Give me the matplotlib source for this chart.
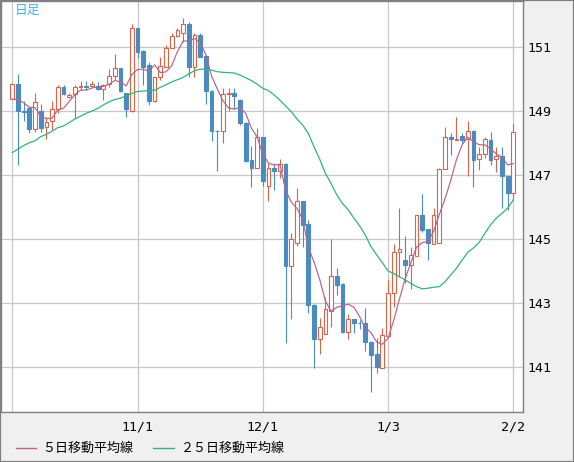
import matplotlib
matplotlib.use("Agg")
import matplotlib.pyplot as plt
import numpy as np
import pandas as pd
from matplotlib.patches import Rectangle
from matplotlib.lines import Line2D

# ---------------- data ----------------
opens = [149.37, 149.83, 149.00, 149.10, 148.44, 149.00, 148.49, 148.69, 149.05, 149.74,
         149.45, 149.52, 149.74, 149.77, 149.77, 149.78, 149.68, 149.84, 150.09, 150.33,
         149.55, 149.00, 151.59, 150.89, 150.44, 149.32, 150.05, 150.39, 150.96, 151.34,
         151.45, 151.72, 150.39, 151.375, 150.72, 149.64, 148.39, 148.38, 149.52, 149.55,
         149.36, 148.62, 147.47, 147.21, 148.18, 146.67, 147.21, 147.13, 147.34, 144.14,
         144.86, 146.18, 145.47, 142.94, 141.875, 142.04, 142.76, 143.84, 143.59, 142.10,
         142.49, 142.38, 142.36, 141.79, 141.41, 140.96, 141.98, 143.30, 144.60, 144.34,
         144.19, 144.48, 145.75, 145.31, 144.84, 144.86, 147.18, 148.18, 148.10, 148.22,
         148.12, 148.38, 147.49, 147.65, 148.09, 147.49, 147.59, 146.97, 146.43]
highs = [149.89, 150.16, 149.32, 149.12, 149.55, 149.22, 148.82, 149.31, 149.81, 149.81,
         149.55, 149.81, 149.94, 149.94, 149.94, 149.92, 149.84, 150.31, 150.78, 150.35,
         149.57, 151.72, 151.61, 150.91, 150.52, 150.07, 150.70, 151.06, 151.43, 151.61,
         151.90, 151.77, 151.43, 151.43, 150.75, 149.66, 148.42, 149.71, 149.71, 149.71,
         149.38, 148.65, 147.91, 148.46, 148.20, 147.36, 147.36, 147.49, 147.36, 145.18,
         146.58, 146.20, 145.59, 142.96, 142.52, 143.18, 144.99, 144.08, 143.62, 142.66,
         142.50, 142.47, 142.83, 141.80, 141.90, 142.21, 143.72, 144.84, 145.97, 145.10,
         144.76, 145.75, 146.41, 145.31, 145.97, 147.21, 148.51, 148.30, 148.82, 148.30,
         148.70, 148.40, 147.88, 148.18, 148.35, 147.88, 147.88, 146.97, 148.59]
lows = [149.37, 147.31, 148.70, 148.30, 148.35, 148.35, 148.13, 148.41, 148.95, 149.50,
        149.40, 148.77, 149.66, 149.66, 149.74, 149.66, 149.34, 149.76, 149.97, 149.60,
        148.80, 148.98, 150.65, 149.81, 149.19, 149.29, 149.97, 150.39, 150.96, 151.32,
        151.17, 150.07, 150.07, 150.68, 149.21, 148.07, 147.13, 148.01, 149.00, 149.05,
        148.56, 147.40, 146.63, 147.21, 146.67, 146.20, 146.53, 146.90, 141.74, 142.49,
        144.78, 144.74, 142.68, 140.98, 141.41, 142.04, 142.24, 143.25, 142.05, 141.87,
        142.07, 142.20, 141.51, 140.23, 140.80, 140.96, 141.98, 142.88, 143.82, 143.62,
        143.43, 144.48, 145.23, 144.34, 144.84, 144.86, 147.18, 147.62, 148.10, 148.00,
        146.97, 146.63, 147.16, 147.53, 147.31, 147.10, 145.96, 145.91, 146.22]
closes = [149.83, 149.00, 148.98, 148.44, 149.29, 148.46, 148.65, 149.05, 149.74, 149.53,
          149.49, 149.74, 149.77, 149.74, 149.86, 149.68, 149.81, 150.09, 150.33, 149.64,
          149.05, 151.61, 150.85, 150.39, 149.32, 150.05, 150.40, 150.96, 151.34, 151.53,
          151.72, 150.39, 151.375, 150.70, 149.64, 148.38, 148.37, 149.53, 149.55, 149.47,
          148.64, 147.45, 147.21, 148.18, 146.82, 147.21, 147.13, 147.33, 144.14, 144.99,
          146.18, 145.44, 142.92, 141.875, 142.24, 142.81, 143.84, 143.56, 142.10, 142.49,
          142.36, 142.36, 141.79, 141.375, 141.01, 142.00, 143.30, 144.60, 144.69, 144.19,
          144.50, 145.75, 145.28, 144.88, 145.75, 147.18, 148.18, 148.12, 148.14, 148.09,
          148.38, 147.47, 147.65, 148.12, 147.47, 147.59, 146.97, 146.43, 148.33]
# closes of the four days before the first visible candle (estimated from the 5-day line)
prior_closes = [149.05, 149.48, 149.14, 149.35]
ma25 = [147.70, 147.81, 147.92, 148.01, 148.07, 148.20, 148.27, 148.375, 148.48, 148.53,
        148.64, 148.75, 148.84, 148.93, 149.00, 149.08, 149.19, 149.29, 149.36, 149.40,
        149.48, 149.55, 149.61, 149.625, 149.64, 149.65, 149.74, 149.82, 149.91, 149.98,
        150.05, 150.16, 150.26, 150.31, 150.30, 150.28, 150.23, 150.21, 150.20, 150.19,
        150.125, 150.04, 149.95, 149.84, 149.71, 149.64, 149.50, 149.34, 149.16, 148.98,
        148.75, 148.56, 148.30, 147.88, 147.49, 147.05, 146.73, 146.375, 146.11, 145.91,
        145.65, 145.41, 145.125, 144.76, 144.50, 144.26, 144.00, 143.92, 143.82, 143.72,
        143.61, 143.51, 143.44, 143.46, 143.49, 143.51, 143.66, 143.875, 144.08, 144.34,
        144.58, 144.72, 144.89, 145.18, 145.44, 145.65, 145.80, 145.96, 146.22]
tick_days = [0, 22, 44, 66, 88]
tick_labels = ["", "11/1", "12/1", "1/3", "2/2"]
y_ticks = [141, 143, 145, 147, 149, 151]
title_text = "日足"
legend_labels = ["５日移動平均線", "２５日移動平均線"]

# ---------------- styling ----------------
UP = "#d8644a"
DOWN = "#4a8bc0"
MA5C = "#b8628c"
MA25C = "#2fb57c"
GRID = "#c8c8c8"
FRAME = "#808080"
CJK = ["Noto Sans CJK JP", "DejaVu Sans"]

W, H = 574, 462
fig = plt.figure(figsize=(W / 100, H / 100), dpi=100, facecolor="#f0f0f0")
ax = fig.add_axes([1 / W, 50 / H, 522 / W, 411 / H])
ax.set_facecolor("white")

o = np.array(opens); hi = np.array(highs); lo = np.array(lows); c = np.array(closes)
n = len(c)
x = np.arange(n)
up = c >= o
cols = np.where(up, UP, DOWN)

ax.vlines(x, lo, hi, colors=cols, lw=0.8, zorder=2)
bottom = np.minimum(o, c)
height = np.maximum(np.abs(c - o), 0.015)
ax.bar(x[up], height[up], bottom=bottom[up], width=0.66, facecolor="white",
       edgecolor=UP, lw=0.8, zorder=3)
ax.bar(x[~up], height[~up], bottom=bottom[~up], width=0.66, facecolor=DOWN,
       edgecolor=DOWN, lw=0.8, zorder=3)

ma5 = pd.Series(prior_closes + closes).rolling(5).mean().to_numpy()[len(prior_closes):]
ax.plot(x, ma5, color=MA5C, lw=0.85, zorder=4)
ax.plot(x, ma25, color=MA25C, lw=0.9, zorder=4)

ax.set_xlim(-1.98, 89.7)
ax.set_ylim(139.59, 152.44)
ax.set_xticks(tick_days)
ax.set_xticklabels(tick_labels)
ax.set_yticks(y_ticks)
ax.set_yticklabels([str(v) for v in y_ticks])
ax.yaxis.tick_right()
ax.grid(True, color=GRID, lw=0.9)
ax.set_axisbelow(True)
ax.tick_params(axis="both", length=0, labelsize=9.5, labelcolor="black")
ax.tick_params(axis="y", pad=3.5)
ax.tick_params(axis="x", pad=6)
for lab in ax.get_xticklabels() + ax.get_yticklabels():
    lab.set_family("DejaVu Sans Mono")
for s in ax.spines.values():
    s.set_color(FRAME)
    s.set_linewidth(1.0)

fig.text(15 / W, 1 - 10.5 / H, title_text, color="#3cb4e6", fontsize=9.2,
         family=CJK, va="center", ha="left")

ly = 1 - 447.5 / H
fig.add_artist(Line2D([16 / W, 36 / W], [ly, ly], transform=fig.transFigure, color=MA5C, lw=1.0))
fig.text(42 / W, 1 - 448 / H, legend_labels[0], fontsize=9.4, family=CJK, va="center", ha="left")
fig.add_artist(Line2D([153 / W, 174 / W], [ly, ly], transform=fig.transFigure, color=MA25C, lw=1.0))
fig.text(181 / W, 1 - 448 / H, legend_labels[1], fontsize=9.4, family=CJK, va="center", ha="left")

fig.add_artist(Rectangle((0, 0), 1, 1, transform=fig.transFigure, fill=False, ec=FRAME, lw=1.6))

fig.savefig("out.png", dpi=100, facecolor=fig.get_facecolor())
